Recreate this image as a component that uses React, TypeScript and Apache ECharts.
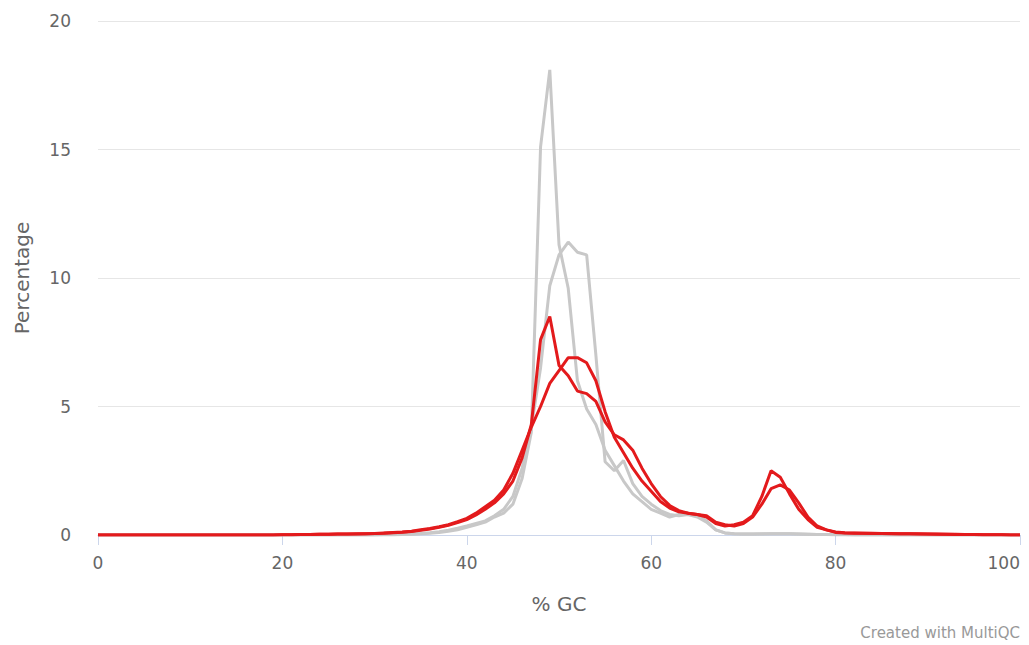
import React, { useEffect, useRef } from "react";
import * as echarts from "echarts";

const gcValues: number[] = Array.from({ length: 101 }, (_, i) => i);

// % of reads at each GC value (0..100)
const redSharp: number[] = [
  0, 0, 0, 0, 0, 0, 0, 0, 0, 0,
  0, 0, 0, 0, 0, 0, 0, 0, 0, 0,
  0.01, 0.01, 0.02, 0.02, 0.03, 0.03, 0.04, 0.04, 0.04, 0.05,
  0.06, 0.07, 0.09, 0.11, 0.14, 0.18, 0.23, 0.3, 0.38, 0.48,
  0.6, 0.78, 1.0, 1.25, 1.6, 2.1, 3.0, 4.3, 7.6, 8.5,
  6.6, 6.2, 5.6, 5.5, 5.2, 4.4, 3.9, 3.7, 3.3, 2.6,
  2.0, 1.5, 1.15, 0.95, 0.85, 0.8, 0.7, 0.45, 0.35, 0.4,
  0.5, 0.75, 1.5, 2.5, 2.25, 1.6, 1.0, 0.6, 0.3, 0.2,
  0.1, 0.08, 0.07, 0.07, 0.06, 0.06, 0.05, 0.05, 0.05, 0.04,
  0.04, 0.03, 0.03, 0.02, 0.02, 0.02, 0.01, 0.01, 0.01, 0, 0,
];

const redBroad: number[] = [
  0, 0, 0, 0, 0, 0, 0, 0, 0, 0,
  0, 0, 0, 0, 0, 0, 0, 0, 0, 0,
  0.01, 0.01, 0.02, 0.02, 0.03, 0.03, 0.04, 0.04, 0.05, 0.05,
  0.06, 0.08, 0.1, 0.12, 0.15, 0.2, 0.25, 0.32, 0.4, 0.52,
  0.65, 0.85, 1.1, 1.35, 1.75, 2.4, 3.3, 4.2, 5.0, 5.9,
  6.4, 6.9, 6.9, 6.7, 6.0, 4.8, 3.8, 3.2, 2.6, 2.1,
  1.7, 1.3, 1.05, 0.9, 0.85, 0.8, 0.75, 0.5, 0.4, 0.35,
  0.45, 0.7, 1.2, 1.8, 1.95, 1.75, 1.25, 0.7, 0.35, 0.2,
  0.12, 0.09, 0.08, 0.07, 0.07, 0.06, 0.06, 0.05, 0.05, 0.05,
  0.04, 0.04, 0.03, 0.03, 0.02, 0.02, 0.01, 0.01, 0.01, 0, 0,
];

const graySharp: number[] = [
  0, 0, 0, 0, 0, 0, 0, 0, 0, 0,
  0, 0, 0, 0, 0, 0, 0, 0, 0, 0,
  0, 0, 0, 0, 0, 0, 0, 0, 0, 0,
  0, 0.01, 0.01, 0.02, 0.03, 0.05, 0.07, 0.1, 0.15, 0.2,
  0.3, 0.4, 0.5, 0.7, 0.85, 1.2, 2.2, 4.0, 15.1, 18.1,
  11.3, 9.6, 6.0, 4.9, 4.3, 3.3, 2.7, 2.1, 1.6, 1.3,
  1.0, 0.85, 0.7, 0.8, 0.8, 0.75, 0.55, 0.2, 0.08, 0.05,
  0.04, 0.04, 0.04, 0.05, 0.05, 0.05, 0.04, 0.03, 0.02, 0.02,
  0.01, 0.01, 0, 0, 0, 0, 0, 0, 0, 0,
  0, 0, 0, 0, 0, 0, 0, 0, 0, 0, 0,
];

const grayBroad: number[] = [
  0, 0, 0, 0, 0, 0, 0, 0, 0, 0,
  0, 0, 0, 0, 0, 0, 0, 0, 0, 0,
  0, 0, 0, 0, 0, 0, 0, 0, 0, 0,
  0, 0.01, 0.01, 0.02, 0.04, 0.06, 0.09, 0.13, 0.19, 0.26,
  0.35, 0.45, 0.55, 0.75, 1.0, 1.5, 2.6, 4.2, 6.5, 9.7,
  10.9, 11.4, 11.0, 10.9, 7.0, 2.85, 2.5, 2.9, 2.0, 1.5,
  1.2, 0.95, 0.8, 0.75, 0.8, 0.7, 0.5, 0.2, 0.08, 0.05,
  0.04, 0.04, 0.05, 0.05, 0.05, 0.05, 0.04, 0.03, 0.02, 0.02,
  0.01, 0.01, 0, 0, 0, 0, 0, 0, 0, 0,
  0, 0, 0, 0, 0, 0, 0, 0, 0, 0, 0,
];

const xTicks: number[] = [0, 20, 40, 60, 80, 100];
const yTicks: number[] = [0, 5, 10, 15, 20];

const GRAY = "#c8c8c8";
const RED = "#e31a1c";
const FONT = "DejaVu Sans";

function pairs(vals: number[]): number[][] {
  return gcValues.map((gc, i) => [gc, vals[i]]);
}

export default function App() {
  const ref = useRef<HTMLDivElement>(null);
  useEffect(() => {
    if (!ref.current) return;
    const chart = echarts.init(ref.current, undefined, { renderer: "svg" });
    const lineSeries = (name: string, vals: number[], color: string, z: number) => ({
      name,
      type: "line",
      data: pairs(vals),
      showSymbol: false,
      symbol: "none",
      lineStyle: { color, width: 3 },
      itemStyle: { color },
      z,
    });
    chart.setOption({
      animation: false,
      backgroundColor: "#ffffff",
      grid: {
        left: 98,
        right: 9,
        top: 21,
        bottom: 110,
        containLabel: false,
        outerBoundsMode: "none",
      },
      xAxis: {
        type: "value",
        min: xTicks[0],
        max: xTicks[xTicks.length - 1],
        interval: 20,
        name: "% GC",
        nameLocation: "middle",
        nameGap: 59,
        nameTextStyle: { fontFamily: FONT, fontSize: 20, color: "#666666" },
        axisLine: { show: true, lineStyle: { color: "#ccd6eb", width: 1 } },
        axisTick: { show: true, length: 10, lineStyle: { color: "#ccd6eb" } },
        axisLabel: {
          fontFamily: FONT,
          fontSize: 17,
          color: "#666666",
          margin: 19,
          alignMaxLabel: "right",
        },
        splitLine: { show: false },
      },
      yAxis: {
        type: "value",
        min: yTicks[0],
        max: yTicks[yTicks.length - 1],
        interval: 5,
        name: "Percentage",
        nameLocation: "middle",
        nameGap: 66,
        nameRotate: 90,
        nameTextStyle: { fontFamily: FONT, fontSize: 20, color: "#666666" },
        axisLine: { show: false },
        axisTick: { show: false },
        axisLabel: { fontFamily: FONT, fontSize: 17, color: "#666666", margin: 27 },
        splitLine: { show: true, lineStyle: { color: "#e6e6e6", width: 1 } },
      },
      series: [
        lineSeries("Sample A", graySharp, GRAY, 2),
        lineSeries("Sample B", grayBroad, GRAY, 2),
        lineSeries("Sample C", redBroad, RED, 3),
        lineSeries("Sample D", redSharp, RED, 3),
      ],
      graphic: [
        {
          type: "text",
          right: 9,
          top: 625,
          style: {
            text: "Created with MultiQC",
            fontFamily: FONT,
            fontSize: 15,
            fill: "#999999",
          },
        },
      ],
    });
    return () => chart.dispose();
  }, []);
  return <div ref={ref} style={{ width: 1029, height: 645, position: "absolute", left: 0, top: 0 }} />;
}
